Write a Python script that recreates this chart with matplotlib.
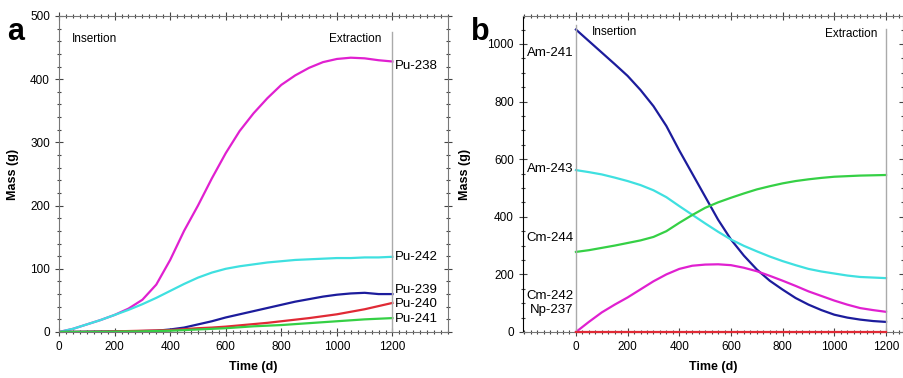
import matplotlib.pyplot as plt
from matplotlib.ticker import MultipleLocator

plt.rcParams['font.family'] = ['Liberation Sans', 'DejaVu Sans']

# time axis (days), read every 50 d
t = [0, 50, 100, 150, 200, 250, 300, 350, 400, 450, 500, 550, 600, 650, 700,
     750, 800, 850, 900, 950, 1000, 1050, 1100, 1150, 1200]

# panel a: plutonium isotopes
pu238 = [0, 5, 12, 19, 27, 37, 51, 75, 114, 160, 200, 243, 283, 318, 346,
         370, 391, 406, 418, 427, 432, 434, 433, 430, 428]
pu242 = [0, 5, 12, 19, 27, 35, 44, 54, 65, 76, 86, 94, 100, 104, 107,
         110, 112, 114, 115, 116, 117, 117, 118, 118, 119]
pu239 = [0, 0.2, 0.5, 0.8, 1, 1.2, 1.5, 2, 4, 7, 12, 17, 23, 28, 33,
         38, 43, 48, 52, 56, 59, 61, 62, 60, 60]
pu240 = [0, 0.1, 0.3, 0.6, 1, 1.5, 2, 2.5, 3, 4.5, 6, 7, 8.5, 10.5, 12.5,
         14.5, 17, 19.5, 22, 25, 28, 32, 36, 41, 46]
pu241 = [0, 0.1, 0.2, 0.3, 0.5, 0.8, 1, 1.5, 2, 3, 4, 5, 6, 7.5, 9,
         10, 11, 12.5, 14, 15.5, 17, 18.5, 20, 21, 22]

# panel b: minor actinides
am241 = [1050, 1010, 970, 930, 889, 840, 784, 715, 630, 550, 470, 390, 321, 265, 217,
         178, 147, 118, 95, 76, 60, 50, 43, 38, 35]
am243 = [562, 555, 547, 536, 524, 510, 492, 468, 437, 407, 377, 348, 321, 299, 280,
         262, 246, 232, 219, 210, 203, 196, 191, 189, 187]
cm244 = [278, 284, 292, 300, 309, 318, 330, 350, 379, 406, 431, 450, 466, 481, 495,
         506, 516, 524, 530, 535, 539, 541, 543, 544, 545]
cm242 = [0, 35, 68, 95, 120, 148, 176, 200, 219, 230, 234, 235, 232, 223, 211,
         195, 178, 160, 141, 125, 109, 95, 83, 76, 70]
np237 = [0] * len(t)

c_mag, c_cyan, c_blue, c_red, c_green = '#e020d0', '#3fe0e0', '#1c1c9c', '#e02a35', '#35d045'

fig = plt.figure(figsize=(9.04, 3.78), dpi=100)
ax1 = fig.add_axes([0.0653, 0.1217, 0.4303, 0.836])
ax2 = fig.add_axes([0.5785, 0.1217, 0.4205, 0.836])

lw = 1.6
ax1.plot(t, pu238, color=c_mag, lw=lw)
ax1.plot(t, pu242, color=c_cyan, lw=lw)
ax1.plot(t, pu239, color=c_blue, lw=lw)
ax1.plot(t, pu240, color=c_red, lw=lw)
ax1.plot(t, pu241, color=c_green, lw=lw)
ax1.set_xlim(0, 1400)
ax1.set_ylim(0, 500)
ax1.axvline(1200, ymax=0.95, color='#aaaaaa', lw=1)

for name, y in [('Pu-238', 421), ('Pu-242', 118), ('Pu-239', 67),
                ('Pu-240', 44), ('Pu-241', 20)]:
    ax1.text(1210, y, name, fontsize=9.5, va='center', ha='left')
ax1.text(45, 463, 'Insertion', fontsize=8.5, va='center')
ax1.text(1160, 463, 'Extraction', fontsize=8.5, va='center', ha='right')

ax2.plot(t, am241, color=c_blue, lw=lw)
ax2.plot(t, am243, color=c_cyan, lw=lw)
ax2.plot(t, cm244, color=c_green, lw=lw)
ax2.plot(t, cm242, color=c_mag, lw=lw)
ax2.plot(t, np237, color=c_red, lw=lw, clip_on=False, zorder=5)
ax2.set_xlim(-205, 1266)
ax2.set_ylim(0, 1097)
ax2.axvline(0, ymax=0.97, color='#aaaaaa', lw=1)
ax2.axvline(1200, ymax=0.96, color='#aaaaaa', lw=1)

for name, y in [('Am-241', 968), ('Am-243', 567), ('Cm-244', 327),
                ('Cm-242', 126), ('Np-237', 75)]:
    ax2.text(-10, y, name, fontsize=9.5, va='center', ha='right')
ax2.text(60, 1040, 'Insertion', fontsize=8.5, va='center')
ax2.text(1168, 1035, 'Extraction', fontsize=8.5, va='center', ha='right')

for ax, ystep, yminor in [(ax1, 100, 20), (ax2, 200, 50)]:
    ax.xaxis.set_major_locator(MultipleLocator(200))
    ax.xaxis.set_minor_locator(MultipleLocator(25))
    ax.yaxis.set_major_locator(MultipleLocator(ystep))
    ax.yaxis.set_minor_locator(MultipleLocator(yminor))
    ax.tick_params(which='both', direction='inout', top=True, right=True,
                   labelsize=8.5, width=0.8, color='#444444')
    ax.tick_params(which='major', length=6)
    ax.tick_params(which='minor', length=3)
    ax.set_xlabel('Time (d)', fontsize=9, fontweight='bold', labelpad=6)
    ax.set_ylabel('Mass (g)', fontsize=9, fontweight='bold')
    for sp in ax.spines.values():
        sp.set_linewidth(0.8)
        sp.set_color('#777777')
    ax.set_xticks([0, 200, 400, 600, 800, 1000, 1200])

ax2.spines['left'].set_color('black')
ax1.yaxis.labelpad = 8
ax2.yaxis.labelpad = 12

fig.text(0.008, 0.955, 'a', fontsize=22, fontweight='bold', va='top')
fig.text(0.521, 0.955, 'b', fontsize=22, fontweight='bold', va='top')

fig.savefig('out.png', dpi=100)
